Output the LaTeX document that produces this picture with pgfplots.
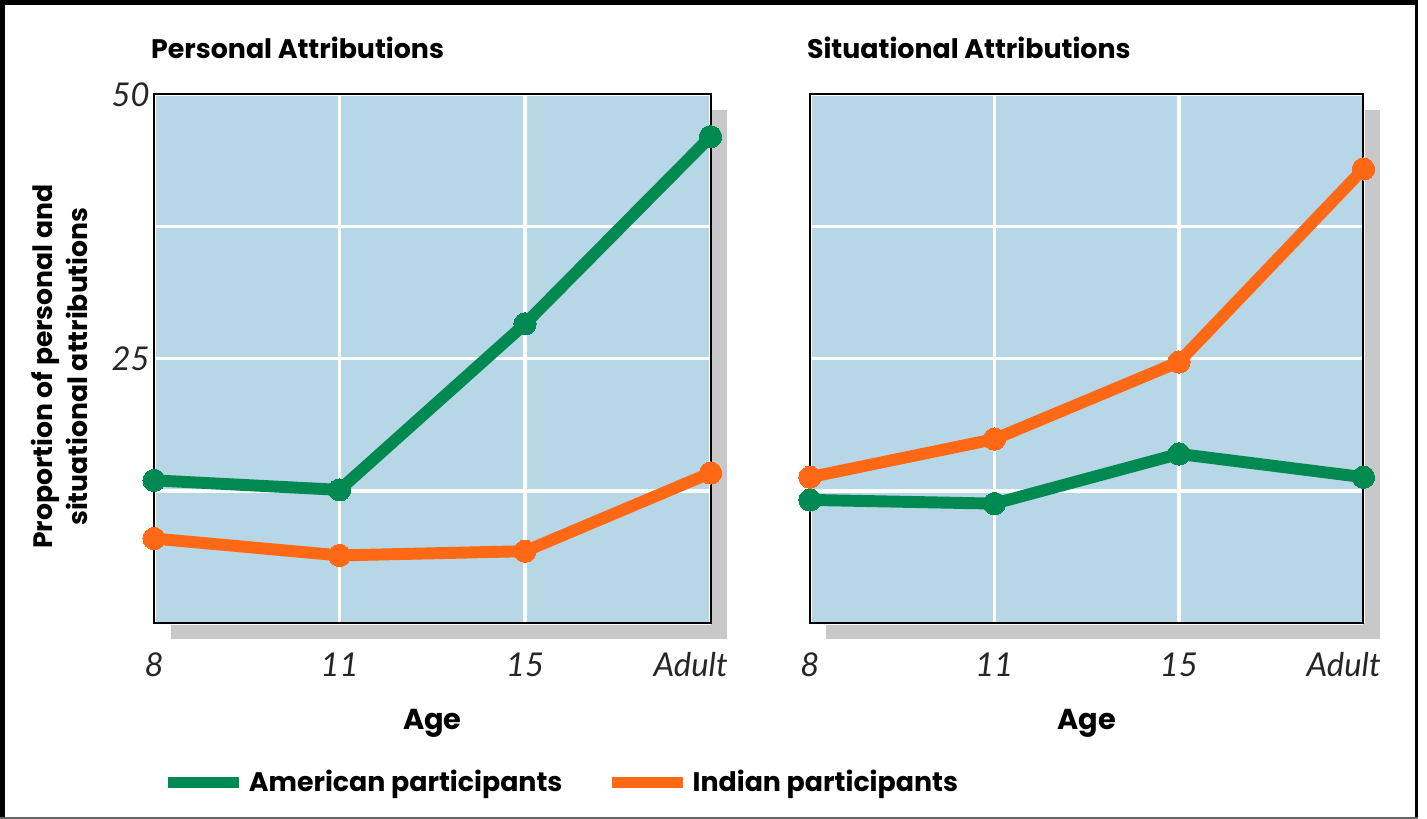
\documentclass[border=0pt]{standalone}
\usepackage{fontspec}
\setmainfont{Poppins}
\newfontfamily\tickfont{Lato}
\usepackage{pgfplots}
\pgfplotsset{compat=1.18}
\definecolor{bgblue}{RGB}{183,214,230}
\definecolor{amgreen}{RGB}{0,138,82}
\definecolor{inorange}{RGB}{255,104,20}
\definecolor{shadowgray}{RGB}{200,200,200}
\pgfplotsset{
  panel/.style={
    scale only axis, width=279pt, height=266pt,
    anchor=south west,
    xmin=0, xmax=3, ymin=0, ymax=50,
    xtick={0,1,2,3},
    xticklabels={8,11,15,Adult\hspace*{20pt}},
    ytick={0,12.5,25,37.5,50},
    major tick length=0pt,
    grid=major,
    major grid style={white, line width=1.6pt},
    axis line style={black, line width=1pt},
    axis background/.style={fill=bgblue},
    ticklabel style={font=\tickfont\itshape\fontsize{16.5}{16.5}\selectfont, text=black!85},
    xticklabel style={anchor=base, yshift=-27pt},
    yticklabel style={inner sep=2pt},
    xlabel={Age},
    xlabel style={at={(axis description cs:0.5,0)}, anchor=base, yshift=-53.5pt, font=\bfseries\fontsize{14.5}{14.5}\selectfont},
    title style={at={(axis description cs:-0.006,1)}, anchor=base west, inner sep=0pt, yshift=12pt, font=\bfseries\fontsize{13.5}{13.5}\selectfont},
    clip=false,
  },
  amer/.style={color=amgreen, line width=6pt, mark=*, mark size=5.6pt, mark options={solid, line width=0pt}},
  indi/.style={color=inorange, line width=6pt, mark=*, mark size=5.6pt, mark options={solid, line width=0pt}},
}
\begin{document}
\begin{tikzpicture}
\begin{scope}[x=0.5pt, y=-0.5pt, shift={(0pt,412pt)}]
  \fill[white] (0,0) rectangle (1427,824);
  % frame
  \fill[black] (0,0) rectangle (5,824);
  \fill[black] (0,0) rectangle (1427,5);
  \fill[black] (1424,0) rectangle (1427,824);
  \fill[black!60] (0,822) rectangle (1427,824);
  % shadows
  \fill[shadowgray] (172,111) rectangle (732,643);
  \fill[shadowgray] (831,111) rectangle (1389,643);
\end{scope}

\begin{axis}[panel, at={(77.5pt,98.5pt)}, width=280pt,
  yticklabels={,,25,,50},
  title={Personal Attributions},
  ylabel={Proportion of personal and\\situational attributions},
  ylabel style={at={(axis description cs:-0.17,0.485)}, anchor=center, align=center, rotate=0,
    font=\bfseries\fontsize{13.4}{18}\selectfont},
  legend columns=2,
  legend style={at={(axis description cs:0,0)}, anchor=west, xshift=4pt, yshift=-80pt,
    draw=none, fill=none, inner sep=0pt,
    font=\bfseries\fontsize{13.5}{13.5}\selectfont,
    /tikz/every even column/.append style={column sep=20pt}},
  legend image code/.code={\draw[mark=none, line width=5.5pt] (0pt,0pt) -- (36pt,0pt);},
]
\addplot[amer] coordinates {(0,13.5) (1,12.6) (2,28.3) (3,46.0)};
\addlegendentry{American participants}
\addplot[indi] coordinates {(0,8.0) (1,6.4) (2,6.8) (3,14.2)};
\addlegendentry{Indian participants}
\end{axis}

\begin{axis}[panel, at={(407.5pt,98.5pt)}, width=278.5pt,
  yticklabels={},
  title={Situational Attributions},
]
\addplot[amer] coordinates {(0,11.65) (1,11.3) (2,16.0) (3,13.8)};
\addplot[indi] coordinates {(0,13.8) (1,17.4) (2,24.7) (3,42.95)};
\end{axis}
\end{tikzpicture}
\end{document}
